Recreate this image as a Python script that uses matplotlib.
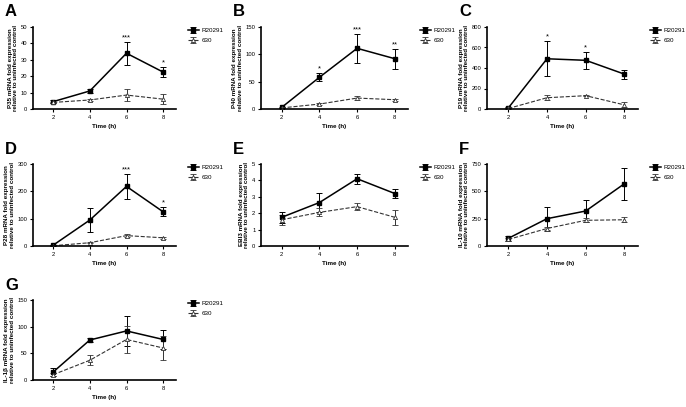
import matplotlib.pyplot as plt

plt.rcParams['font.family'] = ['Liberation Sans', 'DejaVu Sans']

times = [2, 4, 6, 8]

# P35
p35_r = [4.5, 11, 34, 22.5]
p35_r_err = [1, 1, 7, 3]
p35_s = [4, 5.5, 8.5, 6]
p35_s_err = [0.5, 0.5, 3.5, 3]

# P40
p40_r = [3, 58, 111, 92]
p40_r_err = [1, 7, 26, 18]
p40_s = [2, 9, 20, 17]
p40_s_err = [0.5, 2, 4, 2]

# P19
p19_r = [10, 490, 475, 340]
p19_r_err = [5, 170, 80, 45]
p19_s = [5, 110, 130, 40]
p19_s_err = [3, 25, 8, 25]

# P28
p28_r = [3, 95, 218, 125]
p28_r_err = [1, 45, 45, 17]
p28_s = [1, 12, 38, 30]
p28_s_err = [0.5, 2, 6, 3]

# EBI3
ebi3_r = [1.75, 2.65, 4.1, 3.2]
ebi3_r_err = [0.35, 0.6, 0.3, 0.3]
ebi3_s = [1.6, 2.05, 2.4, 1.75]
ebi3_s_err = [0.3, 0.25, 0.2, 0.45]

# IL-10
il10_r = [70, 250, 320, 570]
il10_r_err = [20, 110, 100, 145]
il10_s = [60, 160, 235, 240]
il10_s_err = [10, 10, 20, 25]

# IL-1b
il1b_r = [15, 75, 92, 76]
il1b_r_err = [8, 3, 28, 18]
il1b_s = [10, 37, 76, 60]
il1b_s_err = [3, 9, 25, 22]

panels = [
    ('A', 'P35', p35_r, p35_r_err, p35_s, p35_s_err, [0, 10, 20, 30, 40, 50], {6: '***', 8: '*'}),
    ('B', 'P40', p40_r, p40_r_err, p40_s, p40_s_err, [0, 50, 100, 150], {4: '*', 6: '***', 8: '**'}),
    ('C', 'P19', p19_r, p19_r_err, p19_s, p19_s_err, [0, 200, 400, 600, 800], {4: '*', 6: '*'}),
    ('D', 'P28', p28_r, p28_r_err, p28_s, p28_s_err, [0, 100, 200, 300], {6: '***', 8: '*'}),
    ('E', 'EBI3', ebi3_r, ebi3_r_err, ebi3_s, ebi3_s_err, [0, 1, 2, 3, 4, 5], {}),
    ('F', 'IL-10', il10_r, il10_r_err, il10_s, il10_s_err, [0, 250, 500, 750], {}),
    ('G', 'IL-1β', il1b_r, il1b_r_err, il1b_s, il1b_s_err, [0, 50, 100, 150], {}),
]

W, H = 686, 407
fig = plt.figure(figsize=(W / 100, H / 100), dpi=100)

# panel boxes in pixels (left, right) and (top, bottom)
cols = [(33, 176), (261, 408), (487, 638)]
rows = [(27, 109), (164, 246), (300, 380)]

for k, (letter, gene, r, r_err, s, s_err, yticks, stars) in enumerate(panels):
    x0, x1 = cols[k % 3]
    y0, y1 = rows[k // 3]
    ax = fig.add_axes([x0 / W, 1 - y1 / H, (x1 - x0) / W, (y1 - y0) / H])

    ax.errorbar(times, r, yerr=r_err, color='black', lw=1.1, marker='s', ms=3,
                capsize=2, elinewidth=0.7, capthick=0.7, label='R20291')
    ax.errorbar(times, s, yerr=s_err, color='#333333', lw=0.8, ls='--', marker='^', ms=3,
                mfc='white', mec='#333333', mew=0.6, capsize=2, elinewidth=0.7,
                capthick=0.7, label='630')

    top = yticks[-1]
    for t, txt in stars.items():
        i = times.index(t)
        ax.text(t, r[i] + r_err[i] + top * 0.01, txt, ha='center', va='bottom', fontsize=5.5)

    ax.set_xlim(0.9, 8.7)
    ax.set_ylim(0, top)
    ax.set_xticks(times)
    ax.set_yticks(yticks)
    for sp in ['top', 'right']:
        ax.spines[sp].set_visible(False)
    for sp in ['left', 'bottom']:
        ax.spines[sp].set_linewidth(1.2)
    ax.tick_params(labelsize=4.2, width=0.8, length=2.5, pad=1.5)
    ax.set_xlabel('Time (h)', fontsize=4.5, fontweight='bold', labelpad=3)
    ax.set_ylabel(f'{gene} mRNA fold expression\nrelative to uninfected control',
                  fontsize=4.5, fontweight='bold', labelpad=2, linespacing=1.1)

    ax.legend(loc='upper left', bbox_to_anchor=((x1 + 12) / W, 1 - (y0 + 1) / H),
              bbox_transform=fig.transFigure, frameon=False, fontsize=4.5,
              handlelength=1.7, handletextpad=0.5, labelspacing=0.7,
              borderaxespad=0, borderpad=0)

    fig.text((x0 - 28) / W, 1 - (y0 - 15) / H, letter, fontsize=12, fontweight='bold',
             ha='left', va='center')

fig.savefig('out.png', dpi=100)
